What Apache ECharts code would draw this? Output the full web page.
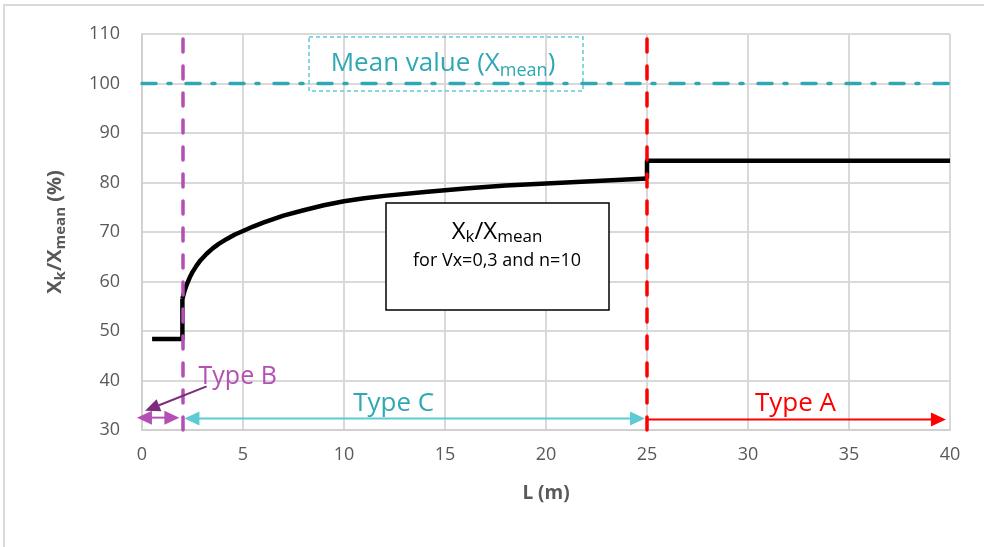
<!DOCTYPE html>
<html><head><meta charset="utf-8">
<script src="https://cdn.jsdelivr.net/npm/echarts@6/dist/echarts.min.js"></script>
<style>html,body{margin:0;padding:0;background:#fff}#c{width:984px;height:547px}</style>
</head><body><div id="c"></div>
<script>
// Data
const stepBL = [0.5, 2, 2];          // Type B flat part + jump
const stepBV = [48.4, 48.4, 56.5];
const curveL = [2, 2.1, 2.2, 2.35, 2.5, 2.7, 2.9, 3.2, 3.5, 3.8, 4.2, 4.6, 5, 5.5, 6, 6.5, 7, 8, 9, 10, 11, 12, 14, 16, 18, 20, 22, 24, 25];
const curveV = [56.5, 58.0, 59.2, 60.7, 61.9, 63.2, 64.3, 65.6, 66.7, 67.6, 68.6, 69.5, 70.2, 71.1, 71.9, 72.6, 73.3, 74.4, 75.4, 76.2, 76.8, 77.3, 78.1, 78.8, 79.4, 79.8, 80.2, 80.6, 80.8];
const stepAL = [25, 25, 40];         // jump + Type A flat part
const stepAV = [80.8, 84.4, 84.4];
const meanL = [0, 40];
const meanV = [100, 100];
const boundaryB = 2;   // Type B / C limit
const boundaryA = 25;  // Type C / A limit
const xTicks = [0, 5, 10, 15, 20, 25, 30, 35, 40];
const yTicks = [30, 40, 50, 60, 70, 80, 90, 100, 110];
const arrowB = [-0.25, 1.85, 32.5];
const arrowC = [2.1, 24.9, 32.3];
const arrowA = [25.0, 39.8, 32.1];

const FONT = '"Open Sans", "Noto Sans", sans-serif';
const GRAY = '#595959';
const TEAL = '#2fa8b4';
const LTEAL = '#5ccbd3';
const PURPLE = '#b44fb4';
const DPURPLE = '#7b2c7b';
const RED = '#ff0000';

const chart = echarts.init(document.getElementById('c'));
const blackLine = {color: '#000', width: 4.5, join: 'round'};
const option = {
  animation: false,
  backgroundColor: '#fff',
  textStyle: {fontFamily: FONT},
  grid: {left: 142, right: 34, top: 34, bottom: 117},
  xAxis: {
    type: 'value', min: xTicks[0], max: xTicks[xTicks.length-1], interval: 5,
    axisLine: {show: true, lineStyle: {color: '#d0d0d0', width: 2}},
    axisTick: {show: false},
    splitLine: {show: true, lineStyle: {color: '#d9d9d9', width: 2}},
    axisLabel: {color: GRAY, fontSize: 18, margin: 16, fontFamily: FONT},
    name: 'L (m)', nameLocation: 'middle', nameGap: 54,
    nameTextStyle: {color: GRAY, fontSize: 19, fontWeight: 'bold', fontFamily: FONT}
  },
  yAxis: {
    type: 'value', min: yTicks[0], max: yTicks[yTicks.length-1], interval: 10,
    axisLine: {show: true, lineStyle: {color: '#d0d0d0', width: 2}},
    axisTick: {show: false},
    splitLine: {show: true, lineStyle: {color: '#d9d9d9', width: 2}},
    axisLabel: {color: GRAY, fontSize: 18, margin: 22, fontFamily: FONT},
    name: '{b|X}{s|k}{b|/X}{s|mean}{b| (%)}', nameLocation: 'middle', nameGap: 74,
    nameTextStyle: {color: GRAY, fontFamily: FONT,
      rich: {b: {fontSize: 20, fontWeight: 'bold', color: GRAY, fontFamily: FONT},
             s: {fontSize: 15, fontWeight: 'bold', color: GRAY, fontFamily: FONT, verticalAlign: 'bottom', padding: [10, 0, 0, 0]}}}
  },
  series: [
    {
      type: 'line', data: meanL.map((l, i) => [l, meanV[i]]), symbol: 'none', z: 3,
      lineStyle: {color: TEAL, width: 3.5, type: [14, 12, 3, 15], cap: 'round'}
    },
    {
      type: 'line', data: stepBL.map((l, i) => [l, stepBV[i]]), symbol: 'none', z: 4,
      lineStyle: blackLine,
      markLine: {
        silent: true, symbol: 'none', label: {show: false},
        data: [
          {xAxis: boundaryB, lineStyle: {color: PURPLE, width: 3.5, type: [13, 14], cap: 'round'}},
          {xAxis: boundaryA, lineStyle: {color: RED, width: 3.5, type: [13, 14], cap: 'round'}}
        ]
      }
    },
    {
      type: 'line', data: curveL.map((l, i) => [l, curveV[i]]), symbol: 'none', z: 4,
      lineStyle: blackLine
    },
    {
      type: 'line', data: stepAL.map((l, i) => [l, stepAV[i]]), symbol: 'none', z: 4,
      lineStyle: blackLine
    }
  ]
};
chart.setOption(option);

function px(x, y) { return chart.convertToPixel({gridIndex: 0}, [x, y]); }
function head(tip, dir, len, w, color) {
  return {type: 'polygon', z: 20, shape: {points: [tip, [tip[0] - dir * len, tip[1] - w / 2], [tip[0] - dir * len, tip[1] + w / 2]]}, style: {fill: color}};
}
const g = [];
// chart frame
g.push({type: 'rect', z: 0, shape: {x: 4, y: 5, width: 1000, height: 600}, style: {fill: 'none', stroke: '#d9d9d9', lineWidth: 2}});
// Type B double arrow
{
  const a = px(arrowB[0], arrowB[2]), b = px(arrowB[1], arrowB[2]);
  g.push({type: 'line', z: 19, shape: {x1: a[0] + 10, y1: a[1], x2: b[0] - 10, y2: b[1]}, style: {stroke: PURPLE, lineWidth: 2}});
  g.push(head(a, -1, 15, 14, PURPLE));
  g.push(head(b, 1, 15, 14, PURPLE));
}
// Type C arrow
{
  const a = px(arrowC[0], arrowC[2]), b = px(arrowC[1], arrowC[2]);
  g.push({type: 'line', z: 19, shape: {x1: a[0] + 10, y1: a[1], x2: b[0] - 10, y2: b[1]}, style: {stroke: LTEAL, lineWidth: 2}});
  g.push(head(a, -1, 15, 14, LTEAL));
  g.push(head(b, 1, 15, 14, LTEAL));
  g.push({type: 'text', z: 20, x: (a[0] + b[0]) / 2 - 21, y: a[1] - 15, style: {text: 'Type C', fill: TEAL, font: '26px ' + FONT, align: 'center', verticalAlign: 'middle'}});
}
// Type A arrow
{
  const a = px(arrowA[0], arrowA[2]), b = px(arrowA[1], arrowA[2]);
  g.push({type: 'line', z: 19, shape: {x1: a[0], y1: a[1], x2: b[0] - 10, y2: b[1]}, style: {stroke: RED, lineWidth: 2}});
  g.push(head(b, 1, 15, 14, RED));
  g.push({type: 'text', z: 20, x: (a[0] + b[0]) / 2 - 1, y: a[1] - 16, style: {text: 'Type A', fill: RED, font: '26px ' + FONT, align: 'center', verticalAlign: 'middle'}});
}
// Type B label & pointer
{
  const lbl = px(2.8, 40.8);
  g.push({type: 'text', z: 20, x: lbl[0], y: lbl[1], style: {text: 'Type B', fill: PURPLE, font: '25px ' + FONT, align: 'left', verticalAlign: 'middle'}});
  const from = px(3.2, 38.8), tip = px(0.15, 33.9);
  const dx = tip[0] - from[0], dy = tip[1] - from[1], L = Math.hypot(dx, dy);
  const ux = dx / L, uy = dy / L, hl = 15, hw = 13;
  const base = [tip[0] - ux * hl, tip[1] - uy * hl];
  g.push({type: 'line', z: 19, shape: {x1: from[0], y1: from[1], x2: base[0], y2: base[1]}, style: {stroke: DPURPLE, lineWidth: 2}});
  g.push({type: 'polygon', z: 20, shape: {points: [tip, [base[0] - uy * hw / 2, base[1] + ux * hw / 2], [base[0] + uy * hw / 2, base[1] - ux * hw / 2]]}, style: {fill: DPURPLE}});
}
// Mean value box
g.push({type: 'rect', z: 15, shape: {x: 309, y: 37, width: 274, height: 54}, style: {fill: 'rgba(255,255,255,0)', stroke: LTEAL, lineWidth: 1.5, lineDash: [4, 3]}});
g.push({type: 'text', z: 16, x: 443, y: 64, style: {
  text: '{a|Mean value (X}{s|mean}{a|)}', align: 'center', verticalAlign: 'middle',
  rich: {a: {fontSize: 26, fill: TEAL, fontFamily: FONT}, s: {fontSize: 18, fill: TEAL, fontFamily: FONT, verticalAlign: 'bottom', padding: [13, 0, 0, 0]}}
}});
// Xk/Xmean box
g.push({type: 'rect', z: 15, shape: {x: 386, y: 203, width: 223, height: 107}, style: {fill: '#fff', stroke: '#000', lineWidth: 1.5}});
g.push({type: 'text', z: 16, x: 497, y: 232, style: {
  text: '{a|X}{s|k}{a|/X}{s|mean}', align: 'center', verticalAlign: 'middle',
  rich: {a: {fontSize: 24, fill: '#000', fontFamily: FONT}, s: {fontSize: 17, fill: '#000', fontFamily: FONT, verticalAlign: 'bottom', padding: [11, 0, 0, 0]}}
}});
g.push({type: 'text', z: 16, x: 497, y: 261, style: {text: 'for Vx=0,3 and n=10', fill: '#000', font: '18px ' + FONT, align: 'center', verticalAlign: 'middle'}});
chart.setOption({graphic: g});
</script>
</body></html>
